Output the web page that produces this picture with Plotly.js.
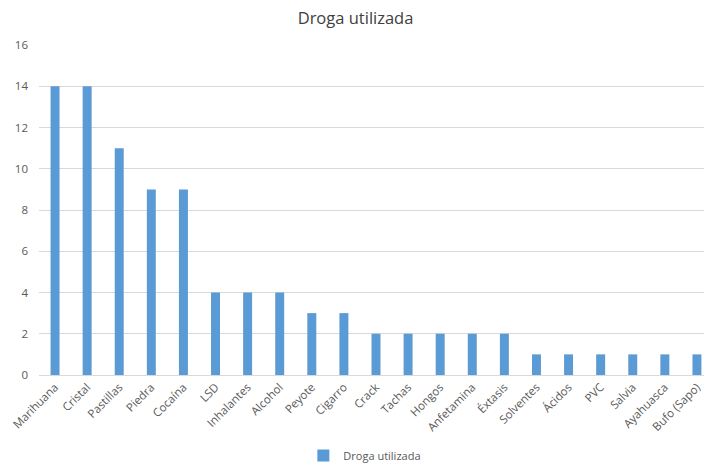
<!DOCTYPE html>
<html>
<head>
<meta charset="utf-8">
<script src="https://cdn.plot.ly/plotly-3.0.1.min.js"></script>
<style>html,body{margin:0;padding:0;background:#fff;}#chart{width:704px;height:470px;}</style>
</head>
<body>
<div id="chart"></div>
<script>
var categories = ["Marihuana","Cristal","Pastillas","Piedra","Cocaína","LSD","Inhalantes","Alcohol","Peyote","Cigarro","Crack","Tachas","Hongos","Anfetamina","Éxtasis","Solventes","Ácidos","PVC","Salvia","Ayahuasca","Bufo (Sapo)"];
var values = [14,14,11,9,9,4,4,4,3,3,2,2,2,2,2,1,1,1,1,1,1];
var yTicks = [0,2,4,6,8,10,12,14,16];

var font = "Open Sans, Liberation Sans, sans-serif";
var trace = {
  type: "bar",
  x: categories,
  y: values,
  name: "Droga utilizada",
  marker: {color: "#5b9bd5"},
  hoverinfo: "x+y"
};
var layout = {
  width: 704, height: 470,
  margin: {l: 39, r: 0, t: 45, b: 95},
  paper_bgcolor: "#fff", plot_bgcolor: "#fff",
  title: {text: "Droga utilizada", font: {family: font, size: 16.5, color: "#404040"}, x: 0.505, xanchor: "center", y: 0.962, yanchor: "middle"},
  bargap: 0.72,
  showlegend: true,
  legend: {orientation: "h", x: 0.49, xanchor: "center", y: -0.2, yanchor: "top", itemwidth: 30, font: {family: font, size: 11, color: "#595959"}},
  xaxis: {
    type: "category",
    range: [-0.5, 20.22],
    tickangle: -45,
    tickfont: {family: font, size: 11.5, color: "#595959"},
    showgrid: false, zeroline: false,
    showline: true, linecolor: "#d9d9d9", linewidth: 1,
    ticks: ""
  },
  yaxis: {
    range: [0, 16],
    tickvals: yTicks,
    ticktext: yTicks.map(String),
    tickfont: {family: font, size: 11.5, color: "#595959"},
    showgrid: true, gridcolor: "#d9d9d9", gridwidth: 1,
    zeroline: false, showline: false, ticks: "", ticklen: 0,
    ticklabelstandoff: 10
  }
};
Plotly.newPlot("chart", [trace], layout, {displayModeBar: false});
</script>
</body>
</html>
